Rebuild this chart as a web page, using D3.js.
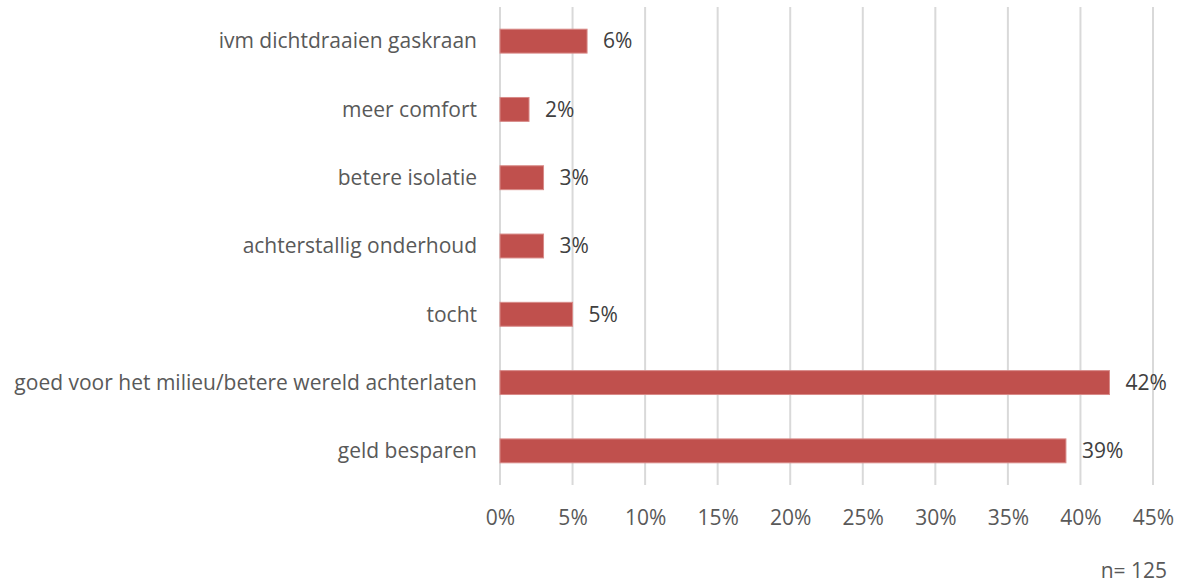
<!DOCTYPE html>
<html><head><meta charset="utf-8">
<script src="https://cdn.jsdelivr.net/npm/d3@7"></script>
<style>body{margin:0;background:#fff;} text{font-family:"Open Sans",sans-serif;}</style>
</head><body>
<svg id="c" width="1181" height="586"></svg>
<script>
const categories = ["ivm dichtdraaien gaskraan","meer comfort","betere isolatie","achterstallig onderhoud","tocht","goed voor het milieu/betere wereld achterlaten","geld besparen"];
const values = [6,2,3,3,5,42,39];
const valueLabels = ["6%","2%","3%","3%","5%","42%","39%"];
const ticks = [0,5,10,15,20,25,30,35,40,45];
const note = "n= 125";

const FS = 21;
const svg = d3.select("#c");
const x = d3.scaleLinear().domain([0,45]).range([500,1153]);
const y = d3.scaleBand().domain(categories).range([7,485]).paddingInner(0.65).paddingOuter(0.325);

svg.append("g").selectAll("line").data(ticks).join("line")
  .attr("x1",d=>x(d)).attr("x2",d=>x(d)).attr("y1",7).attr("y2",485)
  .attr("stroke","#d9d9d9").attr("stroke-width",2);

svg.append("g").selectAll("rect").data(values).join("rect")
  .attr("x",x(0)).attr("y",(d,i)=>y(categories[i]))
  .attr("width",d=>x(d)-x(0)).attr("height",y.bandwidth())
  .attr("fill","#c0504d").attr("stroke","#d88a88").attr("stroke-width",1);

svg.append("g").selectAll("text").data(valueLabels).join("text")
  .attr("x",(d,i)=>x(values[i])+16).attr("y",(d,i)=>y(categories[i])+y.bandwidth()/2)
  .attr("dy","0.35em").attr("font-size",FS).attr("fill","#404040").text(d=>d);

svg.append("g").selectAll("text").data(categories).join("text")
  .attr("x",477).attr("y",d=>y(d)+y.bandwidth()/2).attr("dy","0.35em")
  .attr("text-anchor","end").attr("font-size",FS).attr("fill","#595959").text(d=>d);

const ax = d3.axisBottom(x).tickValues(ticks).tickFormat(d=>d+"%").tickSize(0).tickPadding(0);
const g = svg.append("g").attr("transform","translate(0,518)").call(ax);
g.select(".domain").remove();
g.selectAll("text").attr("font-size",FS).attr("fill","#595959").attr("dy","0.35em").attr("font-family","Open Sans, sans-serif");

svg.append("text").attr("x",1167).attr("y",571).attr("dy","0.35em").attr("text-anchor","end")
  .attr("font-size",FS).attr("fill","#595959").text(note);
</script>
</body></html>
